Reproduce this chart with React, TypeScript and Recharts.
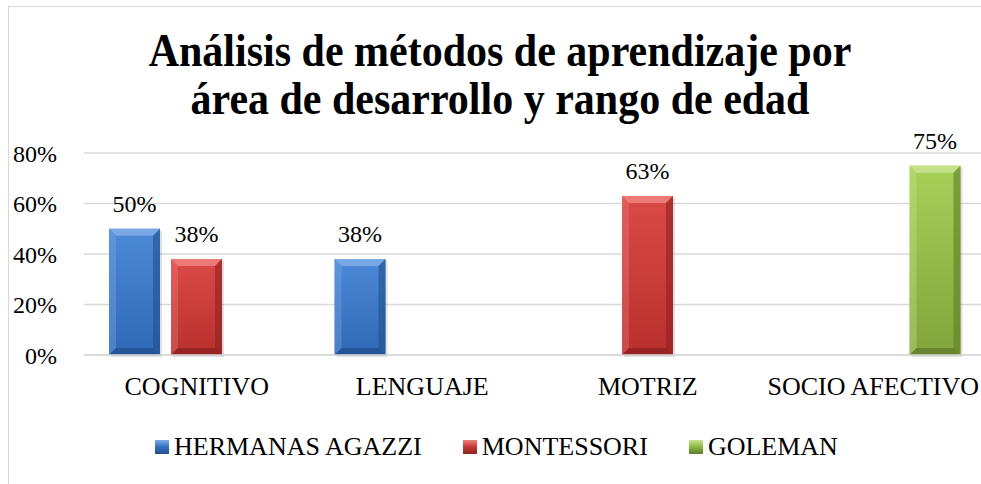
import React from 'react';
import { BarChart, Bar, XAxis, YAxis, CartesianGrid, LabelList } from 'recharts';

const categories = ['COGNITIVO', 'LENGUAJE', 'MOTRIZ', 'SOCIO AFECTIVO'];
const hermanasAgazzi = [0.5, 0.38, null, null];
const montessori = [0.38, null, 0.63, null];
const goleman = [null, null, null, 0.75];
const seriesNames = ['HERMANAS AGAZZI', 'MONTESSORI', 'GOLEMAN'];
const yTicks = [0, 0.2, 0.4, 0.6, 0.8];
const titleLines = ['Análisis de métodos de aprendizaje por', 'área de desarrollo y rango de edad'];

const data = categories.map((c, i) => ({
  name: c,
  agazzi: hermanasAgazzi[i],
  montessori: montessori[i],
  goleman: goleman[i],
}));

const FONT = '"Liberation Serif", "Times New Roman", serif';

const PAL: Record<string, { top: string; bottom: string; light: string; dark: string; legend: string }> = {
  blue: { top: '#4C89D6', bottom: '#2F69B5', light: '#7FAEE8', dark: '#22508E', legend: '#3A74C0' },
  red: { top: '#DA4A47', bottom: '#B8302E', light: '#EE8280', dark: '#8E2220', legend: '#C93C3A' },
  green: { top: '#A8D058', bottom: '#80A43C', light: '#C8E590', dark: '#5F7D2A', legend: '#8FB848' },
};
const seriesPal = ['blue', 'red', 'green'];

const BevelBar = (props: any) => {
  const { x, y, width, height, pal } = props;
  if (!height || height <= 0) return null;
  const p = PAL[pal];
  const b = Math.min(7, width / 4, height / 2);
  return (
    <g>
      <rect x={x + 2} y={y + 2} width={width} height={height} fill="rgba(0,0,0,0.12)" />
      <rect x={x} y={y} width={width} height={height} fill={`url(#g-${pal})`} />
      <polygon points={`${x},${y} ${x + width},${y} ${x + width - b},${y + b} ${x + b},${y + b}`} fill={p.light} opacity={0.85} />
      <polygon points={`${x},${y} ${x + b},${y + b} ${x + b},${y + height - b} ${x},${y + height}`} fill={p.light} opacity={0.35} />
      <polygon points={`${x + width},${y} ${x + width - b},${y + b} ${x + width - b},${y + height - b} ${x + width},${y + height}`} fill={p.dark} opacity={0.6} />
      <polygon points={`${x},${y + height} ${x + b},${y + height - b} ${x + width - b},${y + height - b} ${x + width},${y + height}`} fill={p.dark} opacity={0.8} />
    </g>
  );
};

const fmt = (v: any) => (v == null ? '' : `${Math.round(v * 100)}%`);

const LegendBox = () => (
  <div
    style={{
      position: 'absolute',
      left: 155,
      top: 432,
      display: 'flex',
      alignItems: 'center',
      fontFamily: FONT,
      fontSize: 26,
      color: '#000',
      lineHeight: '30px',
      whiteSpace: 'nowrap',
    }}
  >
    {seriesNames.map((n, i) => {
      const p = PAL[seriesPal[i]];
      return (
        <div key={n} style={{ display: 'flex', alignItems: 'center', marginRight: 41 }}>
          <div
            style={{
              width: 14,
              height: 14,
              marginRight: 5,
              background: `linear-gradient(180deg, ${p.light}, ${p.legend} 45%, ${p.dark})`,
            }}
          />
          <span>{n}</span>
        </div>
      );
    })}
  </div>
);

export default function App() {
  return (
    <div style={{ position: 'fixed', left: 0, top: 0, width: 1200, height: 700, overflow: 'hidden', background: '#fff' }}>
      <div
        style={{
          position: 'absolute',
          left: 8,
          top: 6,
          width: 1300,
          height: 1000,
          borderLeft: '1px solid #D9D9D9',
          borderTop: '1px solid #D9D9D9',
        }}
      />
      <svg style={{ position: 'absolute', left: 0, top: 0 }} width={1000} height={140}>
        {titleLines.map((t, i) => {
          const by = 66 + i * 48;
          return (
            <text
              key={i}
              x={500}
              y={0}
              transform={`translate(0 ${by}) scale(1 1.08)`}
              textAnchor="middle"
              fontFamily={FONT}
              fontWeight="bold"
              fontSize={42}
              fill="#000"
            >
              {t}
            </text>
          );
        })}
      </svg>
      <div style={{ position: 'absolute', left: 0, top: 0 }}>
        <BarChart
          width={1000}
          height={484}
          data={data}
          margin={{ top: 153, right: 14, bottom: 99, left: 8 }}
          barSize={51}
          barGap={11}
        >
          <defs>
            {Object.keys(PAL).map((k) => (
              <linearGradient key={k} id={`g-${k}`} x1="0" y1="0" x2="0" y2="1">
                <stop offset="0%" stopColor={PAL[k].top} />
                <stop offset="100%" stopColor={PAL[k].bottom} />
              </linearGradient>
            ))}
          </defs>
          <CartesianGrid horizontal vertical={false} stroke="#D9D9D9" strokeWidth={1.5} />
          <XAxis
            dataKey="name"
            axisLine={{ stroke: '#D9D9D9', strokeWidth: 1.5 }}
            tickLine={false}
            tickSize={0}
            tickMargin={22}
            tick={{ fontFamily: FONT, fontSize: 26, fill: '#000' }}
            interval={0}
            height={30}
          />
          <YAxis
            domain={[0, 0.8]}
            ticks={yTicks}
            tickFormatter={fmt}
            axisLine={false}
            tickLine={false}
            tickSize={0}
            tickMargin={27}
            width={76}
            tick={{ fontFamily: FONT, fontSize: 24, fill: '#000' }}
          />
          <Bar dataKey="agazzi" name={seriesNames[0]} isAnimationActive={false} shape={(p: any) => <BevelBar {...p} pal="blue" />}>
            <LabelList dataKey="agazzi" position="top" offset={17} formatter={fmt} style={{ fontFamily: FONT, fontSize: 24, fill: '#000' }} />
          </Bar>
          <Bar dataKey="montessori" name={seriesNames[1]} isAnimationActive={false} shape={(p: any) => <BevelBar {...p} pal="red" />}>
            <LabelList dataKey="montessori" position="top" offset={17} formatter={fmt} style={{ fontFamily: FONT, fontSize: 24, fill: '#000' }} />
          </Bar>
          <Bar dataKey="goleman" name={seriesNames[2]} isAnimationActive={false} shape={(p: any) => <BevelBar {...p} pal="green" />}>
            <LabelList dataKey="goleman" position="top" offset={17} formatter={fmt} style={{ fontFamily: FONT, fontSize: 24, fill: '#000' }} />
          </Bar>
        </BarChart>
      </div>
      <LegendBox />
    </div>
  );
}
